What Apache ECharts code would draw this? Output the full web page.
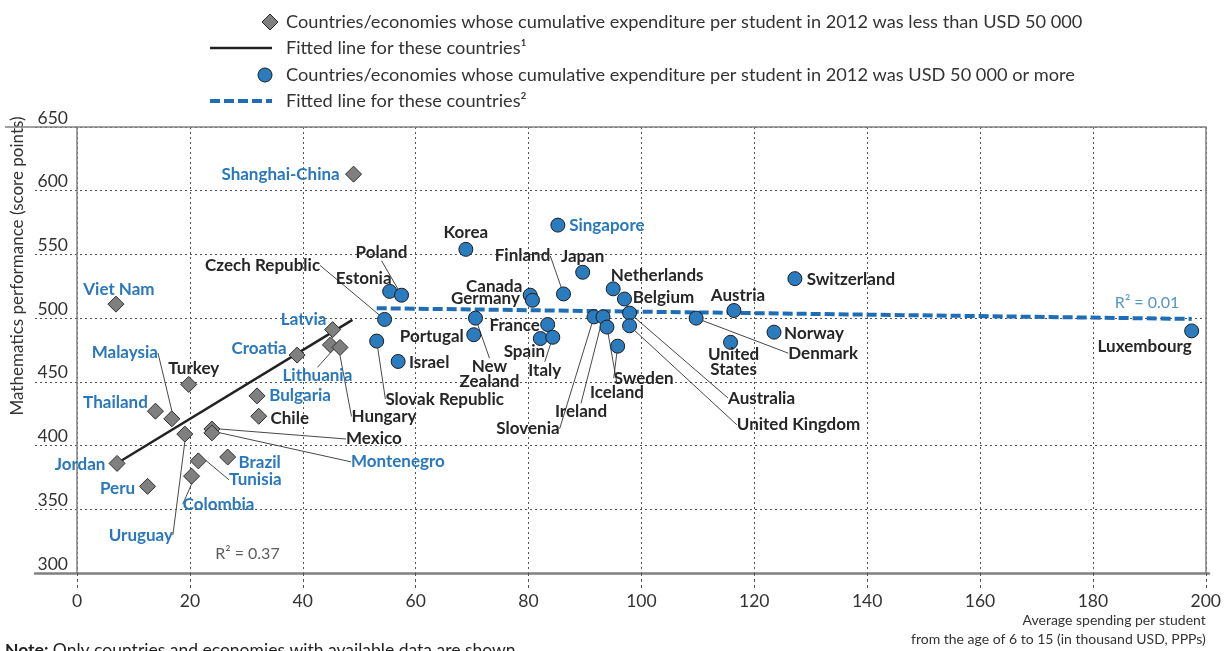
<!DOCTYPE html>
<html><head><meta charset="utf-8">
<script src="https://cdn.jsdelivr.net/npm/echarts@6/dist/echarts.min.js"></script>
<style>html,body{margin:0;padding:0;background:#fff}#c{width:1224px;height:651px}</style>
</head><body><div id="c"></div>
<script>
// ---------- DATA ----------
const lowNames = ["Viet Nam","Latvia","Lithuania","Hungary","Croatia","Turkey","Bulgaria","Chile","Thailand","Malaysia","Uruguay","Mexico","Montenegro","Jordan","Brazil","Tunisia","Colombia","Peru","Shanghai-China"];
const lowSpend = [6.9,45.3,44.9,46.6,39.0,19.8,31.9,32.2,13.9,16.8,19.1,23.9,23.9,7.1,26.7,21.5,20.3,12.5,49.0];
const lowMath  = [511,491,479,477,471,448,439,423,427,421,409,413,410,386,391,388,376,368,613];

const highNames = ["Singapore","Korea","Japan","Netherlands","Finland","Belgium","Canada","Germany","Estonia","Poland","Czech Republic","Slovak Republic","Israel","New Zealand","Portugal","France","Spain","Italy","Slovenia","Ireland","Iceland","Sweden","Australia","United Kingdom","Denmark","Austria","United States","Switzerland","Norway","Luxembourg"];
const highSpend = [85.2,68.9,89.6,95.0,86.2,97.0,80.3,80.7,55.4,57.5,54.5,53.1,56.9,70.6,70.3,83.4,82.1,84.3,91.6,93.2,93.9,95.8,97.9,97.9,109.7,116.4,115.8,127.2,123.5,197.5];
const highMath  = [573,554,536,523,519,515,518,514,521,518,499,482,466,500,487,495,484,485,501,501,493,478,504,494,500,506,481,531,489,490];

const fitLowX = [7.1, 48.8];
const fitLowY = [386.1, 498.6];
const fitHighX = [53.1, 197.5];
const fitHighY = [507.8, 499.4];

const r2Labels = ["R² = 0.37", "R² = 0.01"];
const r2X = [30.2, 189.6];
const r2Y = [314.9, 511.9];

const partnerNames = ["Shanghai-China","Viet Nam","Malaysia","Thailand","Jordan","Peru","Uruguay","Colombia","Tunisia","Brazil","Montenegro","Croatia","Latvia","Lithuania","Bulgaria","Singapore"];

// ---------- LAYOUT (label offsets in px from the point, leader flag) ----------
const labelOffset = {
  "Viet Nam":[3,-15],"Latvia":[-29,-10],"Lithuania":[-13,31,1],"Hungary":[44,69,1],"Croatia":[-38,-7],
  "Turkey":[5,-16],"Bulgaria":[43,0],"Chile":[31,2],"Thailand":[-40,-9],"Malaysia":[-47,-66,1],
  "Uruguay":[-44,101,1],"Mexico":[162,10,1],"Montenegro":[186,29,1],"Jordan":[-37,1],"Brazil":[32,5],
  "Tunisia":[57,19,1],"Colombia":[27,28,1],"Peru":[-30,2],"Shanghai-China":[-73,0],
  "Singapore":[49,0],"Korea":[0,-17],"Japan":[0,-16],"Netherlands":[44,-13],"Finland":[-41,-38,1],
  "Belgium":[39,-2],"Canada":[-36,-9],"Germany":[-47,-2],"Estonia":[-26,-13],"Poland":[-20,-43,1],
  "Czech Republic":[-122,-54,1],"Slovak Republic":[68,58,1],"Israel":[31,1],"New Zealand":[14,56,1],
  "Portugal":[-42,2],"France":[-33,1],"Spain":[-16,13],"Italy":[-8,33,1],"Slovenia":[-66,112,1],
  "Ireland":[-22,95,1],"Iceland":[10,65,1],"Sweden":[26,32,1],"Australia":[132,85,1],
  "United Kingdom":[169,99,1],"Denmark":[127,35,1],"Austria":[4,-15],"United States":[3,20],
  "Norway":[40,1],"Switzerland":[56,1],"Luxembourg":[-47,16]
};
const displayName = {"New Zealand":"New\nZealand","United States":"United\nStates"};

const FONT = 'Lato';
const BLUE_TXT = '#2a78bb';
const DARK_TXT = '#262626';

function buildData(names, xs, ys){
  return names.map((n,i)=>({
    name:n, value:[xs[i], ys[i]],
    label:{color: partnerNames.includes(n) ? BLUE_TXT : DARK_TXT},
    labelLine:{show: !!(labelOffset[n] && labelOffset[n][2])}
  }));
}
function layoutFor(names){
  return function(p){
    const n = names[p.dataIndex];
    const off = labelOffset[n] || [0,0];
    const cx = p.rect.x + p.rect.width/2, cy = p.rect.y + p.rect.height/2;
    return {x: cx+off[0], y: cy+off[1], align:'center', verticalAlign:'middle'};
  };
}
const labelCommon = {
  show:true, position:'inside', fontFamily:FONT, fontWeight:'bold', fontSize:17, lineHeight:15,
  formatter: p => displayName[p.name] || p.name
};
const labelLineCommon = {lineStyle:{color:'#333', width:0.9}};

const chart = echarts.init(document.getElementById('c'), null, {renderer:'canvas'});
const option = {
  animation:false,
  textStyle:{fontFamily:FONT},
  grid:[
    {left:77, right:15, top:127, bottom:78},
    {left:35, right:15, top:127, bottom:78}
  ],
  xAxis:[
    {gridIndex:0, type:'value', min:0, max:200, interval:20,
     axisLine:{show:false},
     axisTick:{show:true, length:16, lineStyle:{color:'#555', type:[3,3], width:1}},
     axisLabel:{margin:19, fontSize:17.5, color:'#333', fontFamily:FONT},
     splitLine:{show:true, lineStyle:{color:'#555', type:[2,3], width:1}}},
    {gridIndex:1, type:'value', min:0, max:200, show:true,
     axisLine:{show:true, lineStyle:{color:'#808080', width:2.5}},
     axisTick:{show:false}, axisLabel:{show:false}, splitLine:{show:false}}
  ],
  yAxis:[
    {gridIndex:0, type:'value', min:300, max:650, interval:50, position:'left',
     axisLine:{show:true, onZero:false, lineStyle:{color:'#808080', width:1.5}},
     axisTick:{show:false},
     axisLabel:{margin:9, fontSize:17.5, color:'#333', verticalAlign:'bottom', fontFamily:FONT},
     splitLine:{show:false}},
    {gridIndex:0, type:'value', min:300, max:650, interval:50, position:'right',
     axisLine:{show:true, onZero:false, lineStyle:{color:'#808080', width:1.5}},
     axisTick:{show:false}, axisLabel:{show:false}, splitLine:{show:false}},
    {gridIndex:1, type:'value', min:300, max:650, interval:50,
     axisLine:{show:false}, axisTick:{show:false}, axisLabel:{show:false},
     splitLine:{show:true, lineStyle:{color:'#555', type:[2,3], width:1}}}
  ],
  series:[
    {type:'line', xAxisIndex:0, yAxisIndex:0, data:fitLowX.map((x,i)=>[x,fitLowY[i]]),
     symbol:'none', lineStyle:{color:'#222', width:2.5}, z:3, silent:true},
    {type:'line', xAxisIndex:0, yAxisIndex:0, data:fitHighX.map((x,i)=>[x,fitHighY[i]]),
     symbol:'none', lineStyle:{color:'#1f6db5', width:4, type:[10,4]}, z:3, silent:true},
    {type:'scatter', name:'low', xAxisIndex:0, yAxisIndex:0, data:buildData(lowNames, lowSpend, lowMath),
     symbol:'diamond', symbolSize:[16,16],
     itemStyle:{color:'#7f7f7f', borderColor:'#2e2e2e', borderWidth:1, opacity:1},
     label:labelCommon, labelLine:labelLineCommon, labelLayout:layoutFor(lowNames), z:5, silent:true},
    {type:'scatter', name:'high', xAxisIndex:0, yAxisIndex:0, data:buildData(highNames, highSpend, highMath),
     symbol:'circle', symbolSize:14,
     itemStyle:{color:'#2b7bbf', borderColor:'#1c1c1c', borderWidth:1, opacity:1},
     label:labelCommon, labelLine:labelLineCommon, labelLayout:layoutFor(highNames), z:5, silent:true},
    {type:'scatter', xAxisIndex:0, yAxisIndex:0, symbolSize:0, silent:true,
     data:r2Labels.map((t,i)=>({name:t, value:[r2X[i], r2Y[i]],
        label:{color: i===0 ? '#333' : '#2a7ab8'}})),
     label:{show:true, position:'inside', fontFamily:FONT, fontSize:16, formatter:p=>p.name}}
  ]
};
chart.setOption(option);

// decorations computed from the axes
const pTop = chart.convertToPixel({xAxisIndex:0, yAxisIndex:0}, [200, 650]);
const legX = 286, legY = [22, 48, 75, 101];
const legText = [
  "Countries/economies whose cumulative expenditure per student in 2012 was less than USD 50 000",
  "Fitted line for these countries¹",
  "Countries/economies whose cumulative expenditure per student in 2012 was USD 50 000 or more",
  "Fitted line for these countries²"
];
const g = [
  {type:'line', shape:{x1:5, y1:pTop[1], x2:pTop[0], y2:pTop[1]}, style:{stroke:'#808080', lineWidth:1.5}, z:10},
  // legend
  {type:'polygon', shape:{points:[[270,legY[0]-8],[278,legY[0]],[270,legY[0]+8],[262,legY[0]]]},
   style:{fill:'#7f7f7f', stroke:'#2e2e2e', lineWidth:1}},
  {type:'line', shape:{x1:210, y1:legY[1], x2:272, y2:legY[1]}, style:{stroke:'#222', lineWidth:2.5}},
  {type:'circle', shape:{cx:265, cy:legY[2], r:7}, style:{fill:'#2b7bbf', stroke:'#1c1c1c', lineWidth:1}},
  {type:'line', shape:{x1:210, y1:legY[3], x2:272, y2:legY[3]}, style:{stroke:'#1f6db5', lineWidth:4, lineDash:[10,4]}},
  // axis titles
  {type:'text', x:18, y:266, rotation:Math.PI/2, style:{text:'Mathematics performance (score points)', fontFamily:FONT, fontSize:17, fill:'#333', align:'center', verticalAlign:'middle'}},
  {type:'text', x:pTop[0], y:620, style:{text:'Average spending per student', fontFamily:FONT, fontSize:14, fill:'#333', align:'right', verticalAlign:'middle'}},
  {type:'text', x:pTop[0], y:639, style:{text:'from the age of 6 to 15 (in thousand USD, PPPs)', fontFamily:FONT, fontSize:14, fill:'#333', align:'right', verticalAlign:'middle'}},
  {type:'text', x:5, y:641, style:{rich:{b:{fontWeight:'bold', fontFamily:FONT, fontSize:17.5, fill:'#222'}, n:{fontFamily:FONT, fontSize:17.5, fill:'#222'}}, text:'{b|Note:}{n| Only countries and economies with available data are shown.}', verticalAlign:'top'}}
];
legText.forEach((t,i)=>g.push({type:'text', x:legX, y:legY[i], style:{text:t, fontFamily:FONT, fontSize:18.2, fill:'#333', verticalAlign:'middle'}}));
chart.setOption({graphic:g});
</script></body></html>
